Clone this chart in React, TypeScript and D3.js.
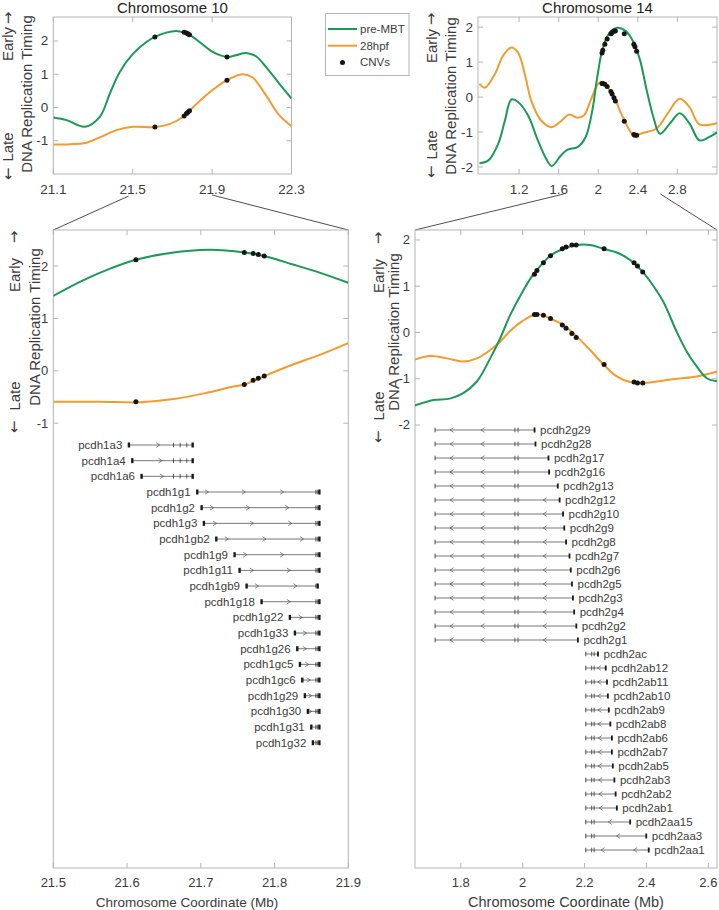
import React from "react";
import * as d3 from "d3";

const FONT = "'Liberation Sans', Arial, Helvetica, sans-serif";
const ARROW_FONT = "'DejaVu Sans', sans-serif";
const GREEN = "#1b9a55";
const ORANGE = "#f39b2f";
const AXIS = "#b5b5b5";
const TEXT = "#3c3c3c";

// ---------- Chromosome 10 overview (top-left)
const c10TopGreenX = [21.1, 21.167, 21.259, 21.334, 21.385, 21.435, 21.502, 21.569, 21.612, 21.669, 21.719, 21.761, 21.786, 21.836, 21.903, 21.975, 22.02, 22.071, 22.121, 22.171, 22.238, 22.3];
const c10TopGreenY = [-0.3, -0.38, -0.58, -0.28, 0.42, 1.07, 1.62, 1.97, 2.12, 2.25, 2.3, 2.25, 2.19, 1.97, 1.67, 1.52, 1.57, 1.64, 1.54, 1.22, 0.72, 0.27];
const c10TopOrangeX = [21.1, 21.167, 21.267, 21.334, 21.418, 21.502, 21.612, 21.686, 21.761, 21.786, 21.87, 21.975, 22.054, 22.104, 22.171, 22.238, 22.3];
const c10TopOrangeY = [-1.11, -1.11, -1.06, -0.9, -0.68, -0.58, -0.59, -0.5, -0.25, -0.1, 0.37, 0.82, 1.0, 0.9, 0.37, -0.23, -0.56];

// ---------- Chromosome 10 zoom (bottom-left)
const c10ZoomGreenX = [21.5, 21.541, 21.577, 21.612, 21.654, 21.712, 21.759, 21.786, 21.825, 21.862, 21.9];
const c10ZoomGreenY = [1.43, 1.73, 1.95, 2.12, 2.24, 2.31, 2.26, 2.19, 2.03, 1.87, 1.68];
const c10ZoomOrangeX = [21.5, 21.563, 21.618, 21.663, 21.708, 21.744, 21.759, 21.786, 21.825, 21.862, 21.9];
const c10ZoomOrangeY = [-0.59, -0.59, -0.6, -0.54, -0.42, -0.3, -0.26, -0.1, 0.12, 0.31, 0.53];

// CNVs chr10
const c10CnvX = [21.612, 21.759, 21.771, 21.778, 21.786, 21.975];
const c10CnvGreen = [2.12, 2.26, 2.24, 2.22, 2.19, 1.52];
const c10CnvOrange = [-0.59, -0.26, -0.18, -0.14, -0.1, 0.82];

// ---------- Chromosome 14 overview (top-right)
const c14TopGreenX = [0.8, 0.89, 0.99, 1.057, 1.123, 1.19, 1.29, 1.39, 1.473, 1.53, 1.623, 1.69, 1.79, 1.873, 1.94, 1.99, 2.04, 2.107, 2.19, 2.273, 2.357, 2.423, 2.49, 2.557, 2.623, 2.723, 2.823, 2.923, 3.023, 3.123, 3.207];
const c14TopGreenY = [-1.89, -1.81, -1.33, -0.67, -0.07, -0.14, -0.52, -1.24, -1.76, -1.97, -1.67, -1.5, -1.43, -1.14, -0.38, 0.57, 1.33, 1.81, 1.98, 1.9, 1.57, 1.05, 0.19, -0.57, -1.05, -0.76, -0.46, -0.76, -1.24, -1.14, -1.0];
const c14TopOrangeX = [0.8, 0.857, 0.957, 1.04, 1.123, 1.19, 1.257, 1.323, 1.423, 1.53, 1.623, 1.707, 1.79, 1.857, 1.923, 2.007, 2.057, 2.157, 2.257, 2.357, 2.457, 2.59, 2.69, 2.823, 2.923, 3.023, 3.207];
const c14TopOrangeY = [0.38, 0.27, 0.67, 1.19, 1.42, 1.27, 0.67, -0.1, -0.67, -0.86, -0.69, -0.5, -0.59, -0.52, -0.1, 0.4, 0.4, 0.0, -0.62, -1.08, -1.02, -0.9, -0.52, -0.05, -0.29, -0.78, -0.74];

// ---------- Chromosome 14 zoom (bottom-right)
const c14ZoomGreenX = [1.65, 1.712, 1.765, 1.808, 1.852, 1.895, 1.927, 1.959, 2.002, 2.035, 2.067, 2.089, 2.132, 2.175, 2.218, 2.261, 2.304, 2.336, 2.358, 2.388, 2.422, 2.455, 2.498, 2.53, 2.563, 2.595, 2.632];
const c14ZoomGreenY = [-1.58, -1.46, -1.43, -1.31, -1.06, -0.56, -0.13, 0.37, 0.91, 1.26, 1.51, 1.66, 1.81, 1.89, 1.89, 1.81, 1.73, 1.62, 1.51, 1.31, 1.01, 0.66, 0.01, -0.41, -0.74, -0.99, -1.06];
const c14ZoomOrangeX = [1.65, 1.701, 1.755, 1.808, 1.852, 1.895, 1.927, 1.959, 2.002, 2.04, 2.067, 2.089, 2.132, 2.175, 2.218, 2.261, 2.304, 2.347, 2.388, 2.433, 2.498, 2.563, 2.632];
const c14ZoomOrangeY = [-0.59, -0.51, -0.56, -0.63, -0.56, -0.38, -0.2, 0.03, 0.26, 0.39, 0.37, 0.3, 0.16, -0.09, -0.38, -0.69, -0.95, -1.07, -1.09, -1.06, -1.0, -0.95, -0.84];

// CNVs chr14
const c14CnvX = [2.038, 2.046, 2.067, 2.09, 2.128, 2.14, 2.159, 2.173, 2.263, 2.36, 2.371, 2.388];
const c14CnvGreen = [1.26, 1.34, 1.51, 1.66, 1.81, 1.85, 1.89, 1.89, 1.81, 1.51, 1.44, 1.31];
const c14CnvOrange = [0.39, 0.39, 0.37, 0.3, 0.16, 0.09, -0.02, -0.11, -0.69, -1.07, -1.09, -1.09];

// ---------- Genes, chr10 (forward strand)
const c10GeneNames = ["pcdh1a3", "pcdh1a4", "pcdh1a6", "pcdh1g1", "pcdh1g2", "pcdh1g3", "pcdh1gb2", "pcdh1g9", "pcdh1g11", "pcdh1gb9", "pcdh1g18", "pcdh1g22", "pcdh1g33", "pcdh1g26", "pcdh1gc5", "pcdh1gc6", "pcdh1g29", "pcdh1g30", "pcdh1g31", "pcdh1g32"];
const c10GeneStart = [21.6017, 21.6063, 21.6189, 21.6944, 21.7003, 21.7034, 21.7202, 21.745, 21.7518, 21.7613, 21.7816, 21.82, 21.8268, 21.83, 21.8336, 21.8368, 21.8403, 21.8444, 21.849, 21.8512];
const c10GeneEnd = [21.6898, 21.6898, 21.6898, 21.8616, 21.8616, 21.8616, 21.8616, 21.8616, 21.8616, 21.8593, 21.8616, 21.8616, 21.8616, 21.8616, 21.8616, 21.8616, 21.8616, 21.8616, 21.8616, 21.8616];
const c10GeneArrows = [[21.642], [21.645], [21.647], [21.708, 21.758, 21.81], [21.715, 21.764, 21.817], [21.719, 21.769, 21.821], [21.735, 21.786, 21.837], [21.76, 21.81], [21.769, 21.819], [21.776, 21.828], [21.819], [21.835], [21.841], [21.841], [21.844], [21.846], [21.848], [21.848], [], []];
const c10ConstExonsA = [21.663, 21.672, 21.681];
const c10ConstExonsG = [21.856, 21.858];

// ---------- Genes, chr14 (reverse strand)
const c14GeneNames = ["pcdh2g29", "pcdh2g28", "pcdh2g17", "pcdh2g16", "pcdh2g13", "pcdh2g12", "pcdh2g10", "pcdh2g9", "pcdh2g8", "pcdh2g7", "pcdh2g6", "pcdh2g5", "pcdh2g3", "pcdh2g4", "pcdh2g2", "pcdh2g1", "pcdh2ac", "pcdh2ab12", "pcdh2ab11", "pcdh2ab10", "pcdh2ab9", "pcdh2ab8", "pcdh2ab6", "pcdh2ab7", "pcdh2ab5", "pcdh2ab3", "pcdh2ab2", "pcdh2ab1", "pcdh2aa15", "pcdh2aa3", "pcdh2aa1"];
const c14GeneStart = [1.717, 1.717, 1.717, 1.717, 1.717, 1.717, 1.717, 1.717, 1.717, 1.717, 1.717, 1.717, 1.717, 1.717, 1.717, 1.717, 2.204, 2.204, 2.204, 2.204, 2.204, 2.204, 2.204, 2.204, 2.204, 2.204, 2.204, 2.204, 2.204, 2.204, 2.204];
const c14GeneEnd = [2.04, 2.043, 2.085, 2.087, 2.115, 2.121, 2.132, 2.136, 2.142, 2.153, 2.157, 2.161, 2.164, 2.168, 2.175, 2.18, 2.245, 2.27, 2.274, 2.277, 2.28, 2.285, 2.29, 2.29, 2.293, 2.298, 2.302, 2.306, 2.349, 2.401, 2.409];
const c14GeneArrows = [[1.771, 1.871], [1.771, 1.871], [1.771, 1.871], [1.771, 1.871], [1.771, 1.871], [1.771, 1.871, 2.072], [1.771, 1.871, 2.072], [1.771, 1.871, 2.072], [1.771, 1.871, 2.072], [1.771, 1.871, 2.072], [1.771, 1.871, 2.072], [1.771, 1.871, 2.072], [1.771, 1.871, 2.072], [1.771, 1.871, 2.072], [1.771, 1.871, 2.072], [1.771, 1.871, 2.072], [], [2.247], [2.248], [2.248], [2.249], [2.249], [2.25], [2.25], [2.25], [2.251], [2.252], [2.253], [2.282], [2.309], [2.259, 2.364]];
const c14ConstExonsG = [1.975, 1.985];
const c14ConstExonsA = [2.223, 2.231];

// ---------- Ticks
const c10TopXTicks = [21.1, 21.5, 21.9, 22.3];
const c10TopYTicks = [-1, 0, 1, 2];
const c14TopXTicks = [1.2, 1.6, 2, 2.4, 2.8];
const c14TopYTicks = [-2, -1, 0, 1, 2];
const c10ZoomXTicks = [21.5, 21.6, 21.7, 21.8, 21.9];
const c10ZoomYTicks = [-1, 0, 1, 2];
const c14ZoomXTicks = [1.8, 2, 2.2, 2.4, 2.6];
const c14ZoomYTicks = [-2, -1, 0, 1, 2];

const legendLabels = ["pre-MBT", "28hpf", "CNVs"];

type Sc = d3.ScaleLinear<number, number>;

const fmt = (t: number) => String(+t.toFixed(3));

function zip(xs: number[], ys: number[]): [number, number][] {
  return xs.map((x, i) => [x, ys[i]] as [number, number]);
}

function Axes(props: { sx: Sc; sy: Sc; xTicks: number[]; yTicks: number[]; font: number; xLabDy: number }) {
  const { sx, sy, xTicks, yTicks, font, xLabDy } = props;
  const [x0, x1] = sx.range();
  const [yB, yT] = sy.range();
  const TL = 5;
  return (
    <g>
      <rect x={x0} y={yT} width={x1 - x0} height={yB - yT} fill="none" stroke={AXIS} strokeWidth={1} />
      {xTicks.map((t) => (
        <g key={"x" + t}>
          <line x1={sx(t)} x2={sx(t)} y1={yB} y2={yB - TL} stroke={AXIS} />
          <line x1={sx(t)} x2={sx(t)} y1={yT} y2={yT + TL} stroke={AXIS} />
          <text x={sx(t)} y={yB + xLabDy} textAnchor="middle" dominantBaseline="central" fontSize={font} fill={TEXT}>
            {fmt(t)}
          </text>
        </g>
      ))}
      {yTicks.map((t) => (
        <g key={"y" + t}>
          <line x1={x0} x2={x0 + TL} y1={sy(t)} y2={sy(t)} stroke={AXIS} />
          <line x1={x1} x2={x1 - TL} y1={sy(t)} y2={sy(t)} stroke={AXIS} />
          <text x={x0 - 5} y={sy(t)} textAnchor="end" dominantBaseline="central" fontSize={font} fill={TEXT}>
            {fmt(t)}
          </text>
        </g>
      ))}
    </g>
  );
}

function Curves(props: { id: string; sx: Sc; sy: Sc; gx: number[]; gy: number[]; ox: number[]; oy: number[]; cx: number[]; cg: number[]; co: number[] }) {
  const { id, sx, sy } = props;
  const line = d3
    .line<[number, number]>()
    .x((d) => sx(d[0]))
    .y((d) => sy(d[1]))
    .curve(d3.curveCatmullRom.alpha(0.5));
  const [x0, x1] = sx.range();
  const [yB, yT] = sy.range();
  const dom = sx.domain();
  const pts = props.cx.map((x, i) => ({ x, g: props.cg[i], o: props.co[i] })).filter((p) => p.x >= dom[0] && p.x <= dom[1]);
  return (
    <g>
      <defs>
        <clipPath id={id}>
          <rect x={x0} y={yT} width={x1 - x0} height={yB - yT} />
        </clipPath>
      </defs>
      <g clipPath={`url(#${id})`}>
        <path d={line(zip(props.ox, props.oy)) || ""} fill="none" stroke={ORANGE} strokeWidth={2} />
        <path d={line(zip(props.gx, props.gy)) || ""} fill="none" stroke={GREEN} strokeWidth={2} />
        {pts.map((p, i) => (
          <circle key={"g" + i} cx={sx(p.x)} cy={sy(p.g)} r={2.5} fill="#151515" />
        ))}
        {pts.map((p, i) => (
          <circle key={"o" + i} cx={sx(p.x)} cy={sy(p.o)} r={2.5} fill="#151515" />
        ))}
      </g>
    </g>
  );
}

function VText(props: { x: number; y: number; size?: number; arrow?: boolean; children: React.ReactNode }) {
  return (
    <text
      transform={`translate(${props.x},${props.y}) rotate(-90)`}
      textAnchor="middle"
      dominantBaseline="central"
      fontSize={props.size || 15}
      fill={TEXT}
      fontFamily={props.arrow ? ARROW_FONT : undefined}
    >
      {props.children}
    </text>
  );
}

const GENE = "#555";

function ForwardGene(props: { sx: Sc; y: number; start: number; end: number; arrows: number[]; exons: number[]; name: string }) {
  const { sx, y } = props;
  const xs = sx(props.start);
  const xe = sx(props.end);
  return (
    <g>
      <line x1={xs} x2={xe} y1={y} y2={y} stroke={GENE} strokeWidth={0.8} />
      {props.exons
        .filter((e) => e > props.start && e < props.end)
        .map((e, i) => (
          <line key={i} x1={sx(e)} x2={sx(e)} y1={y - 2.3} y2={y + 2.3} stroke="#333" strokeWidth={0.8} />
        ))}
      {props.arrows.map((a, i) => (
        <path key={"a" + i} d={`M${sx(a) - 1.8},${y - 2.3}L${sx(a) + 1.8},${y}L${sx(a) - 1.8},${y + 2.3}`} fill="none" stroke={GENE} strokeWidth={0.7} />
      ))}
      <rect x={xs - 0.6} y={y - 2.5} width={2.4} height={5} fill="#1a1a1a" />
      <rect x={xe - 1.8} y={y - 2.5} width={2.4} height={5} fill="#1a1a1a" />
      <text x={xs - 6} y={y} textAnchor="end" dominantBaseline="central" fontSize={11.5} fill={TEXT}>
        {props.name}
      </text>
    </g>
  );
}

function ReverseGene(props: { sx: Sc; y: number; start: number; end: number; arrows: number[]; exons: number[]; name: string }) {
  const { sx, y } = props;
  const xs = sx(props.start);
  const xe = sx(props.end);
  return (
    <g>
      <line x1={xs} x2={xe} y1={y} y2={y} stroke={GENE} strokeWidth={0.8} />
      <line x1={xs} x2={xs} y1={y - 2.3} y2={y + 2.3} stroke="#333" strokeWidth={0.9} />
      {props.exons
        .filter((e) => e > props.start && e < props.end)
        .map((e, i) => (
          <line key={i} x1={sx(e)} x2={sx(e)} y1={y - 2.3} y2={y + 2.3} stroke="#333" strokeWidth={0.8} />
        ))}
      {props.arrows.map((a, i) => (
        <path key={"a" + i} d={`M${sx(a) + 1.8},${y - 2.3}L${sx(a) - 1.8},${y}L${sx(a) + 1.8},${y + 2.3}`} fill="none" stroke={GENE} strokeWidth={0.7} />
      ))}
      <rect x={xe - 1.4} y={y - 2.5} width={1.8} height={5} fill="#1a1a1a" />
      <text x={xe + 5} y={y} textAnchor="start" dominantBaseline="central" fontSize={11.5} fill={TEXT}>
        {props.name}
      </text>
    </g>
  );
}

export default function App() {
  // scales
  const tlX = d3.scaleLinear().domain([21.1, 22.3]).range([53.3, 291.5]);
  const tlY = d3.scaleLinear().domain([-2.0, 2.72]).range([174, 17]);
  const trX = d3.scaleLinear().domain([0.785, 3.2]).range([478, 717]);
  const trY = d3.scaleLinear().domain([-2.2, 2.29]).range([174, 17]);
  const blX = d3.scaleLinear().domain([21.5, 21.9]).range([53.3, 348.3]);
  const blY = d3.scaleLinear().domain([-9.49, 2.688]).range([868, 230]);
  const brX = d3.scaleLinear().domain([1.652, 2.628]).range([415, 717]);
  const brY = d3.scaleLinear().domain([-11.58, 2.216]).range([868, 230]);

  const lineCol = "#222";

  return (
    <svg width={719} height={910} style={{ position: "absolute", left: 0, top: 0, background: "#fff" }} fontFamily={FONT}>
      <rect x={0} y={0} width={719} height={910} fill="#fff" />

      {/* Titles */}
      <text x={(53.3 + 291.5) / 2} y={7} textAnchor="middle" dominantBaseline="central" fontSize={15} fill="#222">
        Chromosome 10
      </text>
      <text x={(478 + 717) / 2} y={7} textAnchor="middle" dominantBaseline="central" fontSize={15} fill="#222">
        Chromosome 14
      </text>

      {/* Top-left */}
      <Axes sx={tlX} sy={tlY} xTicks={c10TopXTicks} yTicks={c10TopYTicks} font={13.5} xLabDy={15} />
      <Curves id="clTL" sx={tlX} sy={tlY} gx={c10TopGreenX} gy={c10TopGreenY} ox={c10TopOrangeX} oy={c10TopOrangeY} cx={c10CnvX} cg={c10CnvGreen} co={c10CnvOrange} />
      <VText x={7.5} y={18} arrow>→</VText>
      <VText x={7.5} y={44}>Early</VText>
      <VText x={7.5} y={147}>Late</VText>
      <VText x={7.5} y={174} arrow>←</VText>
      <VText x={26} y={94}>DNA Replication Timing</VText>

      {/* Top-right */}
      <VText x={431} y={19} arrow>→</VText>
      <VText x={431} y={46}>Early</VText>
      <VText x={431} y={145}>Late</VText>
      <VText x={431} y={172} arrow>←</VText>
      <VText x={450} y={96}>DNA Replication Timing</VText>
      <Axes sx={trX} sy={trY} xTicks={c14TopXTicks} yTicks={c14TopYTicks} font={13.5} xLabDy={15} />
      <Curves id="clTR" sx={trX} sy={trY} gx={c14TopGreenX} gy={c14TopGreenY} ox={c14TopOrangeX} oy={c14TopOrangeY} cx={c14CnvX} cg={c14CnvGreen} co={c14CnvOrange} />

      {/* Legend */}
      <g>
        <rect x={325.5} y={13.5} width={83.5} height={62} fill="#fff" stroke={AXIS} strokeWidth={1} />
        {legendLabels.map((lab, i) => {
          const y = 29 + i * 16.7;
          return (
            <g key={lab}>
              {i < 2 ? (
                <line x1={328} x2={357} y1={y} y2={y} stroke={i === 0 ? GREEN : ORANGE} strokeWidth={2} />
              ) : (
                <circle cx={342.5} cy={y} r={2.5} fill="#151515" />
              )}
              <text x={360} y={y} dominantBaseline="central" fontSize={11.5} fill={TEXT}>
                {lab}
              </text>
            </g>
          );
        })}
      </g>

      {/* Zoom connectors */}
      <line x1={tlX(blX.domain()[0]) - 4} y1={196} x2={blX.range()[0]} y2={230} stroke={lineCol} strokeWidth={0.8} />
      <line x1={tlX(blX.domain()[1])} y1={195} x2={blX.range()[1]} y2={230} stroke={lineCol} strokeWidth={0.8} />
      <line x1={trX(brX.domain()[0])} y1={194} x2={brX.range()[0]} y2={230} stroke={lineCol} strokeWidth={0.8} />
      <line x1={trX(brX.domain()[1])} y1={194} x2={brX.range()[1]} y2={230} stroke={lineCol} strokeWidth={0.8} />

      {/* Bottom-left */}
      <Axes sx={blX} sy={blY} xTicks={c10ZoomXTicks} yTicks={c10ZoomYTicks} font={13} xLabDy={14} />
      <Curves id="clBL" sx={blX} sy={blY} gx={c10ZoomGreenX} gy={c10ZoomGreenY} ox={c10ZoomOrangeX} oy={c10ZoomOrangeY} cx={c10CnvX} cg={c10CnvGreen} co={c10CnvOrange} />
      <VText x={14} y={237} arrow>→</VText>
      <VText x={14} y={275}>Early</VText>
      <VText x={14} y={396}>Late</VText>
      <VText x={14} y={427} arrow>←</VText>
      <VText x={34} y={327}>DNA Replication Timing</VText>
      {c10GeneNames.map((n, i) => (
        <ForwardGene
          key={n}
          sx={blX}
          y={445 + i * 15.67}
          start={c10GeneStart[i]}
          end={c10GeneEnd[i]}
          arrows={c10GeneArrows[i]}
          exons={n.startsWith("pcdh1a") ? c10ConstExonsA : c10ConstExonsG}
          name={n}
        />
      ))}
      <text x={187} y={902} textAnchor="middle" dominantBaseline="central" fontSize={13.5} fill={TEXT}>
        Chromosome Coordinate (Mb)
      </text>

      {/* Bottom-right */}
      <Axes sx={brX} sy={brY} xTicks={c14ZoomXTicks} yTicks={c14ZoomYTicks} font={13} xLabDy={14} />
      <Curves id="clBR" sx={brX} sy={brY} gx={c14ZoomGreenX} gy={c14ZoomGreenY} ox={c14ZoomOrangeX} oy={c14ZoomOrangeY} cx={c14CnvX} cg={c14CnvGreen} co={c14CnvOrange} />
      <VText x={378} y={238} arrow>→</VText>
      <VText x={378} y={276}>Early</VText>
      <VText x={378} y={406}>Late</VText>
      <VText x={378} y={437} arrow>←</VText>
      <VText x={393} y={332}>DNA Replication Timing</VText>
      {c14GeneNames.map((n, i) => (
        <ReverseGene
          key={n}
          sx={brX}
          y={430 + i * 14.0}
          start={c14GeneStart[i]}
          end={c14GeneEnd[i]}
          arrows={c14GeneArrows[i]}
          exons={n.startsWith("pcdh2g") ? c14ConstExonsG : c14ConstExonsA}
          name={n}
        />
      ))}
      <text x={(415 + 717) / 2} y={902} textAnchor="middle" dominantBaseline="central" fontSize={14.5} fill={TEXT}>
        Chromosome Coordinate (Mb)
      </text>
    </svg>
  );
}
